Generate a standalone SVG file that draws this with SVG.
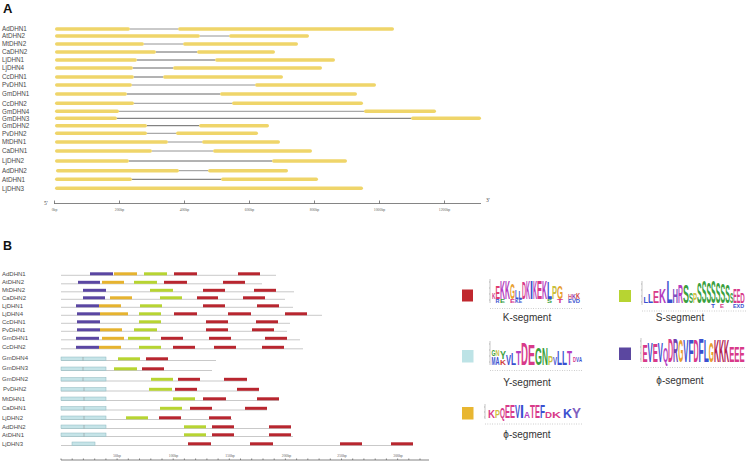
<svg xmlns="http://www.w3.org/2000/svg" width="751" height="462" viewBox="0 0 751 462">
<style>
.ttl{font-family:"Liberation Sans",Arial,sans-serif;font-weight:bold;fill:#111}
.lbl{font-family:"Liberation Sans",Arial,sans-serif;font-size:6.3px;fill:#4a4a4a}
.lblb{font-family:"Liberation Sans",Arial,sans-serif;font-size:6px;fill:#4a4a4a}
.ex{fill:#efd56a}
.in{stroke:#555;stroke-width:0.9}
.ing{stroke:#888;stroke-width:0.9}
.ax{stroke:#666;stroke-width:0.8;fill:none}
.tk{font-family:"Liberation Serif",serif;font-size:3.8px;fill:#666;text-anchor:middle}
.pr{font-family:"Liberation Serif",serif;font-size:5.5px;fill:#444}
.bl{stroke:#bbb;stroke-width:0.8}
.r{fill:#b8262f}.g{fill:#b7d432}.o{fill:#e6b32f}.p{fill:#5a46a2}
.y{fill:#c6e4e8;stroke:#8db7be;stroke-width:0.5}
.leg{font-family:"Liberation Sans",Arial,sans-serif;font-size:10px;fill:#333;text-anchor:middle}
.lg{font-family:"Liberation Sans",Arial,sans-serif;font-weight:bold}
.la{stroke:#888;stroke-width:0.5;fill:none}
.ld{stroke:#999;stroke-width:0.6;stroke-dasharray:0.8 1.6;fill:none}
.pk{fill:#d83a8a}.mg{fill:#b43cc0}.bu{fill:#3a50d0}.gn{fill:#3aa040}.yl{fill:#c8c040}.or{fill:#e8a030}.dr{fill:#b02050}.vi{fill:#7040b0}
</style>

<text class="ttl" x="3" y="12.7" font-size="13">A</text>
<text class="ttl" x="3" y="250" font-size="12.5">B</text>

<!-- Panel A -->
<g id="panelA-rows">
<g id="a-AdDHN1"><text class="lbl" x="2" y="31.2">AdDHN1</text><line class="ing" x1="130" y1="29" x2="178" y2="29"/><rect class="ex" x="55" y="27.3" width="75" height="3.4" rx="1.7"/><rect class="ex" x="178" y="27.3" width="216" height="3.4" rx="1.7"/></g>
<g id="a-AtDHN2"><text class="lbl" x="2" y="38.2">AtDHN2</text><line class="ing" x1="200" y1="36" x2="229" y2="36"/><rect class="ex" x="55" y="34.3" width="145" height="3.4" rx="1.7"/><rect class="ex" x="229" y="34.3" width="80" height="3.4" rx="1.7"/></g>
<g id="a-MtDHN2"><text class="lbl" x="2" y="46.2">MtDHN2</text><line class="ing" x1="144" y1="44" x2="183" y2="44"/><rect class="ex" x="55" y="42.3" width="89" height="3.4" rx="1.7"/><rect class="ex" x="183" y="42.3" width="115" height="3.4" rx="1.7"/></g>
<g id="a-CaDHN2"><text class="lbl" x="2" y="54.2">CaDHN2</text><line class="in" x1="156" y1="52" x2="197" y2="52"/><rect class="ex" x="55" y="50.3" width="101" height="3.4" rx="1.7"/><rect class="ex" x="197" y="50.3" width="78" height="3.4" rx="1.7"/></g>
<g id="a-LjDHN1"><text class="lbl" x="2" y="62.2">LjDHN1</text><line class="in" x1="137" y1="60" x2="215" y2="60"/><rect class="ex" x="55" y="58.3" width="82" height="3.4" rx="1.7"/><rect class="ex" x="215" y="58.3" width="120" height="3.4" rx="1.7"/></g>
<g id="a-LjDHN4"><text class="lbl" x="2" y="70.2">LjDHN4</text><line class="in" x1="133" y1="68" x2="173" y2="68"/><rect class="ex" x="55" y="66.3" width="78" height="3.4" rx="1.7"/><rect class="ex" x="173" y="66.3" width="149" height="3.4" rx="1.7"/></g>
<g id="a-CcDHN1"><text class="lbl" x="2" y="79.2">CcDHN1</text><line class="in" x1="134" y1="77" x2="163" y2="77"/><rect class="ex" x="55" y="75.3" width="79" height="3.4" rx="1.7"/><rect class="ex" x="163" y="75.3" width="120" height="3.4" rx="1.7"/></g>
<g id="a-PvDHN1"><text class="lbl" x="2" y="87.2">PvDHN1</text><line class="ing" x1="132" y1="85" x2="255" y2="85"/><rect class="ex" x="55" y="83.3" width="77" height="3.4" rx="1.7"/><rect class="ex" x="255" y="83.3" width="121" height="3.4" rx="1.7"/></g>
<g id="a-GmDHN1"><text class="lbl" x="2" y="96.2">GmDHN1</text><line class="in" x1="127" y1="94" x2="220" y2="94"/><rect class="ex" x="55" y="92.3" width="72" height="3.4" rx="1.7"/><rect class="ex" x="220" y="92.3" width="137" height="3.4" rx="1.7"/></g>
<g id="a-CcDHN2"><text class="lbl" x="2" y="105.5">CcDHN2</text><line class="ing" x1="134" y1="103.3" x2="232" y2="103.3"/><rect class="ex" x="55" y="101.6" width="79" height="3.4" rx="1.7"/><rect class="ex" x="232" y="101.6" width="131" height="3.4" rx="1.7"/></g>
<g id="a-GmDHN4"><text class="lbl" x="2" y="113.5">GmDHN4</text><line class="ing" x1="119" y1="111.3" x2="364" y2="111.3"/><rect class="ex" x="55" y="109.6" width="64" height="3.4" rx="1.7"/><rect class="ex" x="364" y="109.6" width="72" height="3.4" rx="1.7"/></g>
<g id="a-GmDHN3"><text class="lbl" x="2" y="120.5">GmDHN3</text><line class="in" x1="117" y1="118.3" x2="411" y2="118.3"/><rect class="ex" x="55" y="116.6" width="62" height="3.4" rx="1.7"/><rect class="ex" x="411" y="116.6" width="70" height="3.4" rx="1.7"/></g>
<g id="a-GmDHN2"><text class="lbl" x="2" y="127.9">GmDHN2</text><line class="in" x1="147" y1="125.7" x2="199" y2="125.7"/><rect class="ex" x="55" y="124" width="92" height="3.4" rx="1.7"/><rect class="ex" x="199" y="124" width="70" height="3.4" rx="1.7"/></g>
<g id="a-PvDHN2"><text class="lbl" x="2" y="135.5">PvDHN2</text><line class="ing" x1="147" y1="133.3" x2="176" y2="133.3"/><rect class="ex" x="55" y="131.6" width="92" height="3.4" rx="1.7"/><rect class="ex" x="176" y="131.6" width="82" height="3.4" rx="1.7"/></g>
<g id="a-MtDHN1"><text class="lbl" x="2" y="144.2">MtDHN1</text><line class="ing" x1="168" y1="142" x2="202" y2="142"/><rect class="ex" x="55" y="140.3" width="113" height="3.4" rx="1.7"/><rect class="ex" x="202" y="140.3" width="78" height="3.4" rx="1.7"/></g>
<g id="a-CaDHN1"><text class="lbl" x="2" y="153.2">CaDHN1</text><line class="ing" x1="152" y1="151" x2="213" y2="151"/><rect class="ex" x="55" y="149.3" width="97" height="3.4" rx="1.7"/><rect class="ex" x="213" y="149.3" width="99" height="3.4" rx="1.7"/></g>
<g id="a-LjDHN2"><text class="lbl" x="2" y="163.2">LjDHN2</text><line class="in" x1="129" y1="161" x2="272" y2="161"/><rect class="ex" x="55" y="159.3" width="74" height="3.4" rx="1.7"/><rect class="ex" x="272" y="159.3" width="75" height="3.4" rx="1.7"/></g>
<g id="a-AdDHN2"><text class="lbl" x="2" y="172.9">AdDHN2</text><line class="ing" x1="179" y1="170.7" x2="208" y2="170.7"/><rect class="ex" x="56" y="169" width="123" height="3.4" rx="1.7"/><rect class="ex" x="208" y="169" width="80" height="3.4" rx="1.7"/></g>
<g id="a-AtDHN1"><text class="lbl" x="2" y="181.5">AtDHN1</text><line class="in" x1="132" y1="179.3" x2="221" y2="179.3"/><rect class="ex" x="55" y="177.6" width="77" height="3.4" rx="1.7"/><rect class="ex" x="221" y="177.6" width="97" height="3.4" rx="1.7"/></g>
<g id="a-LjDHN3"><text class="lbl" x="2" y="190.5">LjDHN3</text><rect class="ex" x="55" y="186.6" width="308" height="3.4" rx="1.7"/></g>
</g>

<g id="axisA">
<text class="pr" x="44" y="205">5'</text>
<text class="pr" x="486" y="202">3'</text>
<line class="ax" x1="54" y1="203.5" x2="481" y2="203.5"/>
<path class="ax" d="M54.5 203.5V200.5M119.5 203.5V200.5M184.5 203.5V200.5M249.5 203.5V200.5M314.5 203.5V200.5M379.5 203.5V200.5M444.5 203.5V200.5"/>
<text class="tk" x="54.5" y="211">0bp</text>
<text class="tk" x="119.5" y="211">200bp</text>
<text class="tk" x="184.5" y="211">400bp</text>
<text class="tk" x="249.5" y="211">600bp</text>
<text class="tk" x="314.5" y="211">800bp</text>
<text class="tk" x="379.5" y="211">1000bp</text>
<text class="tk" x="444.5" y="211">1200bp</text>
</g>

<!-- Panel B -->
<g id="panelB-rows">
<g id="b-AdDHN1"><text class="lblb" x="2" y="275.5">AdDHN1</text><line class="bl" x1="61" y1="275.3" x2="276" y2="275.3"/><rect class="p" x="90" y="272.3" width="23" height="3"/><rect class="o" x="114" y="272.3" width="23" height="3"/><rect class="g" x="144" y="272.3" width="23" height="3"/><rect class="r" x="174" y="272.3" width="23" height="3"/><rect class="r" x="238" y="272.3" width="22" height="3"/></g>
<g id="b-AtDHN2"><text class="lblb" x="2" y="284">AtDHN2</text><line class="bl" x1="61" y1="283.8" x2="262" y2="283.8"/><rect class="p" x="78" y="280.8" width="22" height="3"/><rect class="o" x="102" y="280.8" width="22" height="3"/><rect class="g" x="134" y="280.8" width="23" height="3"/><rect class="r" x="164" y="280.8" width="23" height="3"/><rect class="r" x="223" y="280.8" width="22" height="3"/></g>
<g id="b-MtDHN2"><text class="lblb" x="2" y="292">MtDHN2</text><line class="bl" x1="61" y1="291.8" x2="294" y2="291.8"/><rect class="p" x="83" y="288.8" width="23" height="3"/><rect class="g" x="150" y="288.8" width="23" height="3"/><rect class="r" x="203" y="288.8" width="22" height="3"/><rect class="r" x="254" y="288.8" width="22" height="3"/></g>
<g id="b-CaDHN2"><text class="lblb" x="2" y="299.5">CaDHN2</text><line class="bl" x1="61" y1="299.3" x2="285" y2="299.3"/><rect class="p" x="83" y="296.3" width="22" height="3"/><rect class="o" x="110" y="296.3" width="22" height="3"/><rect class="g" x="160" y="296.3" width="22" height="3"/><rect class="r" x="197" y="296.3" width="21" height="3"/><rect class="r" x="243" y="296.3" width="22" height="3"/></g>
<g id="b-LjDHN1"><text class="lblb" x="2" y="307.5">LjDHN1</text><line class="bl" x1="61" y1="307.3" x2="293" y2="307.3"/><rect class="p" x="76" y="304.3" width="23" height="3"/><rect class="o" x="99" y="304.3" width="22" height="3"/><rect class="g" x="140" y="304.3" width="22" height="3"/><rect class="r" x="203" y="304.3" width="22" height="3"/><rect class="r" x="257" y="304.3" width="22" height="3"/></g>
<g id="b-LjDHN4"><text class="lblb" x="2" y="315.5">LjDHN4</text><line class="bl" x1="61" y1="315.3" x2="322" y2="315.3"/><rect class="p" x="77" y="312.3" width="23" height="3"/><rect class="o" x="100" y="312.3" width="28" height="3"/><rect class="g" x="139" y="312.3" width="22" height="3"/><rect class="r" x="174" y="312.3" width="23" height="3"/><rect class="r" x="228" y="312.3" width="23" height="3"/><rect class="r" x="285" y="312.3" width="22" height="3"/></g>
<g id="b-CcDHN1"><text class="lblb" x="2" y="323.5">CcDHN1</text><line class="bl" x1="61" y1="323.3" x2="290" y2="323.3"/><rect class="p" x="77" y="320.3" width="23" height="3"/><rect class="g" x="139" y="320.3" width="22" height="3"/><rect class="r" x="206" y="320.3" width="22" height="3"/><rect class="r" x="256" y="320.3" width="22" height="3"/></g>
<g id="b-PvDHN1"><text class="lblb" x="2" y="331.5">PvDHN1</text><line class="bl" x1="61" y1="331.3" x2="287" y2="331.3"/><rect class="p" x="77" y="328.3" width="23" height="3"/><rect class="o" x="100" y="328.3" width="22" height="3"/><rect class="g" x="134" y="328.3" width="23" height="3"/><rect class="r" x="206" y="328.3" width="22" height="3"/><rect class="r" x="252" y="328.3" width="22" height="3"/></g>
<g id="b-GmDHN1"><text class="lblb" x="2" y="340">GmDHN1</text><line class="bl" x1="61" y1="339.8" x2="300" y2="339.8"/><rect class="p" x="76" y="336.8" width="23" height="3"/><rect class="o" x="102" y="336.8" width="22" height="3"/><rect class="g" x="128" y="336.8" width="22" height="3"/><rect class="r" x="161" y="336.8" width="22" height="3"/><rect class="r" x="209" y="336.8" width="22" height="3"/><rect class="r" x="265" y="336.8" width="22" height="3"/></g>
<g id="b-CcDHN2"><text class="lblb" x="2" y="349">CcDHN2</text><line class="bl" x1="61" y1="348.8" x2="303" y2="348.8"/><rect class="p" x="76" y="345.8" width="23" height="3"/><rect class="o" x="99" y="345.8" width="22" height="3"/><rect class="g" x="139" y="345.8" width="22" height="3"/><rect class="r" x="173" y="345.8" width="22" height="3"/><rect class="r" x="214" y="345.8" width="22" height="3"/><rect class="r" x="262" y="345.8" width="22" height="3"/></g>
<g id="b-GmDHN4"><text class="lblb" x="2" y="360.3">GmDHN4</text><line class="bl" x1="61" y1="360.5" x2="216" y2="360.5"/><rect class="y" x="61" y="357" width="45" height="3.5"/><line class="la" x1="83" y1="357" x2="83" y2="360.5"/><rect class="g" x="118" y="357.3" width="22" height="3"/><rect class="r" x="146" y="357.3" width="22" height="3"/></g>
<g id="b-GmDHN3"><text class="lblb" x="2" y="370.3">GmDHN3</text><line class="bl" x1="61" y1="370.5" x2="212" y2="370.5"/><rect class="y" x="61" y="367" width="45" height="3.5"/><line class="la" x1="83" y1="367" x2="83" y2="370.5"/><rect class="g" x="114" y="367.3" width="23" height="3"/><rect class="r" x="142" y="367.3" width="22" height="3"/></g>
<g id="b-GmDHN2"><text class="lblb" x="2" y="381">GmDHN2</text><line class="bl" x1="61" y1="381" x2="247" y2="381"/><rect class="y" x="61" y="377.5" width="45" height="3.5"/><line class="la" x1="83" y1="377.5" x2="83" y2="381"/><rect class="g" x="151" y="377.8" width="22" height="3"/><rect class="r" x="178" y="377.8" width="22" height="3"/><rect class="r" x="224" y="377.8" width="23" height="3"/></g>
<g id="b-PvDHN2"><text class="lblb" x="3" y="391">PvDHN2</text><line class="bl" x1="61" y1="391" x2="259" y2="391"/><rect class="y" x="61" y="387.5" width="45" height="3.5"/><line class="la" x1="84" y1="387.5" x2="84" y2="391"/><rect class="g" x="149" y="387.8" width="23" height="3"/><rect class="r" x="175" y="387.8" width="22" height="3"/><rect class="r" x="237" y="387.8" width="22" height="3"/></g>
<g id="b-MtDHN1"><text class="lblb" x="2" y="400.5">MtDHN1</text><line class="bl" x1="61" y1="400.5" x2="279" y2="400.5"/><rect class="y" x="61" y="397" width="45" height="3.5"/><line class="la" x1="84" y1="397" x2="84" y2="400.5"/><rect class="g" x="173" y="397.3" width="22" height="3"/><rect class="r" x="203" y="397.3" width="23" height="3"/><rect class="r" x="257" y="397.3" width="22" height="3"/></g>
<g id="b-CaDHN1"><text class="lblb" x="2" y="410">CaDHN1</text><line class="bl" x1="61" y1="410" x2="267" y2="410"/><rect class="y" x="61" y="406.5" width="45" height="3.5"/><line class="la" x1="84" y1="406.5" x2="84" y2="410"/><rect class="g" x="160" y="406.8" width="22" height="3"/><rect class="r" x="190" y="406.8" width="22" height="3"/><rect class="r" x="245" y="406.8" width="22" height="3"/></g>
<g id="b-LjDHN2"><text class="lblb" x="2" y="419.5">LjDHN2</text><line class="bl" x1="61" y1="419.5" x2="232" y2="419.5"/><rect class="y" x="61" y="416" width="45" height="3.5"/><line class="la" x1="84" y1="416" x2="84" y2="419.5"/><rect class="g" x="126" y="416.3" width="22" height="3"/><rect class="r" x="159" y="416.3" width="22" height="3"/><rect class="r" x="209" y="416.3" width="22" height="3"/></g>
<g id="b-AdDHN2"><text class="lblb" x="2" y="428.5">AdDHN2</text><line class="bl" x1="61" y1="428.5" x2="291" y2="428.5"/><rect class="y" x="61" y="425" width="45" height="3.5"/><line class="la" x1="84" y1="425" x2="84" y2="428.5"/><rect class="g" x="184" y="425.3" width="22" height="3"/><rect class="r" x="212" y="425.3" width="22" height="3"/><rect class="r" x="269" y="425.3" width="22" height="3"/></g>
<g id="b-AtDHN1"><text class="lblb" x="2" y="436.5">AtDHN1</text><line class="bl" x1="61" y1="436.5" x2="293" y2="436.5"/><rect class="y" x="61" y="433" width="45" height="3.5"/><line class="la" x1="84" y1="433" x2="84" y2="436.5"/><rect class="g" x="184" y="433.3" width="22" height="3"/><rect class="r" x="212" y="433.3" width="22" height="3"/><rect class="r" x="269" y="433.3" width="22" height="3"/></g>
<g id="b-LjDHN3"><text class="lblb" x="2" y="445.5">LjDHN3</text><line class="bl" x1="61" y1="445.5" x2="413" y2="445.5"/><rect class="y" x="72" y="442" width="23" height="3.5"/><rect class="r" x="188" y="442.3" width="23" height="3"/><rect class="r" x="250" y="442.3" width="23" height="3"/><rect class="r" x="340" y="442.3" width="22" height="3"/><rect class="r" x="391" y="442.3" width="22" height="3"/></g>
</g>

<g id="axisB">
<line class="ax" x1="61" y1="460" x2="429" y2="460"/>
<path class="ax" stroke-width="0.5" d="M61 460v-1.5M72.2 460v-1.5M83.4 460v-1.5M94.7 460v-1.5M105.9 460v-1.5M117.1 460v-1.5M128.3 460v-1.5M139.5 460v-1.5M150.8 460v-1.5M162 460v-1.5M173.2 460v-1.5M184.4 460v-1.5M195.6 460v-1.5M206.9 460v-1.5M218.1 460v-1.5M229.3 460v-1.5M240.5 460v-1.5M251.7 460v-1.5M263 460v-1.5M274.2 460v-1.5M285.4 460v-1.5M296.6 460v-1.5M307.8 460v-1.5M319.1 460v-1.5M330.3 460v-1.5M341.5 460v-1.5M352.7 460v-1.5M363.9 460v-1.5M375.2 460v-1.5M386.4 460v-1.5M397.6 460v-1.5M408.8 460v-1.5M420 460v-1.5"/>
<text class="tk" x="117" y="457">50bp</text>
<text class="tk" x="173.5" y="457">100bp</text>
<text class="tk" x="230" y="457">150bp</text>
<text class="tk" x="286.5" y="457">200bp</text>
<text class="tk" x="342" y="457">250bp</text>
<text class="tk" x="398" y="457">300bp</text>
</g>

<!-- Legend -->
<g id="legend-K">
<rect x="462" y="289.5" width="11" height="12" fill="#c0282e"/>
<path class="la" d="M490 279V303M489 282h1M489 288h1M489 294h1M489 300h1"/>
<line class="ld" x1="490" y1="308.5" x2="583" y2="308.5"/>
<text class="lg" lengthAdjust="spacingAndGlyphs"><tspan x="492" y="299" font-size="8.3" textLength="3.5" lengthAdjust="spacingAndGlyphs" fill="#d04090">K</tspan><tspan x="495.5" y="299" font-size="18" textLength="4.5" lengthAdjust="spacingAndGlyphs" fill="#e03c6e">E</tspan><tspan class="mg" x="500" y="299" font-size="26.4" textLength="5" lengthAdjust="spacingAndGlyphs">K</tspan><tspan class="mg" x="505" y="299" font-size="26.4" textLength="5" lengthAdjust="spacingAndGlyphs">K</tspan><tspan class="or" x="510" y="299" font-size="22.2" textLength="5" lengthAdjust="spacingAndGlyphs">G</tspan><tspan class="bu" x="515" y="299" font-size="12.5" textLength="3.5" lengthAdjust="spacingAndGlyphs">L</tspan><tspan class="bu" x="518.5" y="299" font-size="11.1" textLength="3.5" lengthAdjust="spacingAndGlyphs">L</tspan><tspan class="pk" x="522" y="299" font-size="23.6" textLength="4" lengthAdjust="spacingAndGlyphs">D</tspan><tspan class="mg" x="526" y="299" font-size="26.4" textLength="4" lengthAdjust="spacingAndGlyphs">K</tspan><tspan class="bu" x="530" y="299" font-size="26.4" textLength="3" lengthAdjust="spacingAndGlyphs">I</tspan><tspan class="mg" x="533" y="299" font-size="26.4" textLength="4" lengthAdjust="spacingAndGlyphs">K</tspan><tspan class="pk" x="537" y="299" font-size="26.4" textLength="5" lengthAdjust="spacingAndGlyphs">E</tspan><tspan class="mg" x="542" y="299" font-size="26.4" textLength="5" lengthAdjust="spacingAndGlyphs">K</tspan><tspan class="bu" x="547" y="299" font-size="23.6" textLength="5" lengthAdjust="spacingAndGlyphs">L</tspan><tspan class="yl" x="552" y="299" font-size="18" textLength="5" lengthAdjust="spacingAndGlyphs">P</tspan><tspan class="or" x="557" y="299" font-size="18" textLength="6" lengthAdjust="spacingAndGlyphs">G</tspan><tspan x="568" y="299" font-size="7" textLength="4" lengthAdjust="spacingAndGlyphs" fill="#d06080">H</tspan><tspan x="572" y="299" font-size="7" textLength="4" lengthAdjust="spacingAndGlyphs" fill="#9040b0">K</tspan><tspan x="576" y="299" font-size="8.3" textLength="4" lengthAdjust="spacingAndGlyphs" fill="#d04040">K</tspan><tspan class="bu" x="495.5" y="303" font-size="4.9" textLength="4" lengthAdjust="spacingAndGlyphs">R</tspan><tspan class="gn" x="500" y="303" font-size="4.9" textLength="5" lengthAdjust="spacingAndGlyphs">E</tspan><tspan class="pk" x="510" y="303" font-size="4.9" textLength="5" lengthAdjust="spacingAndGlyphs">E</tspan><tspan class="bu" x="515" y="303" font-size="4.9" textLength="7" lengthAdjust="spacingAndGlyphs">KE</tspan><tspan class="gn" x="547" y="303" font-size="4.9" textLength="5" lengthAdjust="spacingAndGlyphs">S</tspan><tspan class="pk" x="557" y="303" font-size="4.9" textLength="6" lengthAdjust="spacingAndGlyphs">T</tspan><tspan class="bu" x="568" y="303" font-size="4.9" textLength="12" lengthAdjust="spacingAndGlyphs">EVD</tspan></text>
<text class="leg" x="527" y="320.5">K-segment</text>
</g>

<g id="legend-S">
<rect x="619" y="290" width="12" height="12" fill="#b7d432"/>
<path class="la" d="M642 281V305M641 284h1M641 290h1M641 296h1M641 302h1"/>
<line class="ld" x1="642" y1="311" x2="746" y2="311"/>
<text class="lg"><tspan class="bu" x="643.5" y="303" font-size="9.7" textLength="4.5" lengthAdjust="spacingAndGlyphs">L</tspan><tspan class="bu" x="648" y="303" font-size="12.5" textLength="5" lengthAdjust="spacingAndGlyphs">L</tspan><tspan class="pk" x="653" y="303" font-size="16.7" textLength="6" lengthAdjust="spacingAndGlyphs">E</tspan><tspan class="mg" x="659" y="303" font-size="20.8" textLength="7" lengthAdjust="spacingAndGlyphs">K</tspan><tspan class="bu" x="666.5" y="303" font-size="30.6" textLength="6" lengthAdjust="spacingAndGlyphs">L</tspan><tspan x="672.5" y="303" font-size="19.4" textLength="5.5" lengthAdjust="spacingAndGlyphs" fill="#8050c0">H</tspan><tspan class="mg" x="678" y="303" font-size="25" textLength="5" lengthAdjust="spacingAndGlyphs">R</tspan><tspan class="gn" x="683" y="303" font-size="25" textLength="6" lengthAdjust="spacingAndGlyphs">S</tspan><tspan class="gn" x="689" y="303" font-size="13.9" textLength="4" lengthAdjust="spacingAndGlyphs">S</tspan><tspan x="693" y="303" font-size="15.3" textLength="4" lengthAdjust="spacingAndGlyphs" fill="#d0c040">P</tspan><tspan class="gn" x="697" y="303" font-size="29.2" textLength="4.7" lengthAdjust="spacingAndGlyphs">S</tspan><tspan class="gn" x="701.7" y="303" font-size="30.6" textLength="4.7" lengthAdjust="spacingAndGlyphs">S</tspan><tspan class="gn" x="706.4" y="303" font-size="29.2" textLength="4.7" lengthAdjust="spacingAndGlyphs">S</tspan><tspan class="gn" x="711.1" y="303" font-size="30.6" textLength="4.7" lengthAdjust="spacingAndGlyphs">S</tspan><tspan class="gn" x="715.8" y="303" font-size="29.2" textLength="4.7" lengthAdjust="spacingAndGlyphs">S</tspan><tspan class="gn" x="720.5" y="303" font-size="28" textLength="4.7" lengthAdjust="spacingAndGlyphs">S</tspan><tspan class="gn" x="725.2" y="303" font-size="26.4" textLength="4.7" lengthAdjust="spacingAndGlyphs">S</tspan><tspan class="gn" x="730" y="303" font-size="15.3" textLength="3.3" lengthAdjust="spacingAndGlyphs">S</tspan><tspan class="pk" x="733.3" y="303" font-size="20.8" textLength="3.5" lengthAdjust="spacingAndGlyphs">E</tspan><tspan class="pk" x="736.8" y="303" font-size="20.8" textLength="3.5" lengthAdjust="spacingAndGlyphs">E</tspan><tspan class="pk" x="740.3" y="303" font-size="15.3" textLength="4.5" lengthAdjust="spacingAndGlyphs">D</tspan><tspan class="bu" x="711" y="307.5" font-size="5" textLength="4" lengthAdjust="spacingAndGlyphs">T</tspan><tspan class="pk" x="720" y="307.5" font-size="5" textLength="4" lengthAdjust="spacingAndGlyphs">E</tspan><tspan class="bu" x="733" y="307.5" font-size="5" textLength="11" lengthAdjust="spacingAndGlyphs">EXD</tspan></text>
<text class="leg" x="680" y="320.5">S-segment</text>
</g>

<g id="legend-Y">
<rect x="462" y="350" width="11.5" height="12.5" fill="#bde3e6"/>
<path class="la" d="M490 341V365M489 344h1M489 350h1M489 356h1M489 362h1"/>
<line class="ld" x1="490" y1="370.5" x2="583" y2="370.5"/>
<text class="lg"><tspan class="gn" x="491.5" y="356" font-size="8.3" textLength="4" lengthAdjust="spacingAndGlyphs">G</tspan><tspan class="yl" x="495.5" y="356" font-size="8.3" textLength="4" lengthAdjust="spacingAndGlyphs">N</tspan><tspan class="bu" x="491.5" y="365" font-size="11.1" textLength="4" lengthAdjust="spacingAndGlyphs">M</tspan><tspan class="bu" x="495.5" y="365" font-size="11.1" textLength="4" lengthAdjust="spacingAndGlyphs">A</tspan><tspan class="gn" x="500" y="359" font-size="11.1" textLength="6" lengthAdjust="spacingAndGlyphs">Y</tspan><tspan x="500" y="365" font-size="7.6" textLength="6" lengthAdjust="spacingAndGlyphs" fill="#d04040">K</tspan><tspan class="bu" x="506" y="365" font-size="15.3" textLength="5" lengthAdjust="spacingAndGlyphs">V</tspan><tspan class="bu" x="511" y="365" font-size="16.7" textLength="5" lengthAdjust="spacingAndGlyphs">L</tspan><tspan class="mg" x="516" y="365" font-size="19.4" textLength="5" lengthAdjust="spacingAndGlyphs">T</tspan><tspan class="pk" x="521" y="365" font-size="31.9" textLength="7" lengthAdjust="spacingAndGlyphs">D</tspan><tspan class="pk" x="528" y="365" font-size="29.2" textLength="7" lengthAdjust="spacingAndGlyphs">E</tspan><tspan class="gn" x="535" y="365" font-size="23.6" textLength="7" lengthAdjust="spacingAndGlyphs">G</tspan><tspan class="gn" x="542" y="365" font-size="23.6" textLength="6" lengthAdjust="spacingAndGlyphs">N</tspan><tspan class="yl" x="548" y="365" font-size="12.5" textLength="5" lengthAdjust="spacingAndGlyphs">P</tspan><tspan class="bu" x="553" y="365" font-size="11.1" textLength="4" lengthAdjust="spacingAndGlyphs">V</tspan><tspan class="bu" x="557" y="365" font-size="19.4" textLength="5" lengthAdjust="spacingAndGlyphs">L</tspan><tspan class="bu" x="562" y="365" font-size="19.4" textLength="5" lengthAdjust="spacingAndGlyphs">L</tspan><tspan class="mg" x="567" y="365" font-size="20.8" textLength="5" lengthAdjust="spacingAndGlyphs">T</tspan><tspan class="pk" x="573" y="362" font-size="7" textLength="3" lengthAdjust="spacingAndGlyphs">D</tspan><tspan class="bu" x="576" y="362" font-size="7" textLength="3" lengthAdjust="spacingAndGlyphs">V</tspan><tspan class="bu" x="579" y="362" font-size="7" textLength="3" lengthAdjust="spacingAndGlyphs">A</tspan></text>
<text class="leg" x="527" y="386">Y-segment</text>
</g>

<g id="legend-phi1">
<rect x="619" y="347.5" width="12" height="12.5" fill="#5b47a0"/>
<path class="la" d="M641 338V362M640 341h1M640 347h1M640 353h1M640 359h1"/>
<line class="ld" x1="641" y1="367.5" x2="746" y2="367.5"/>
<text class="lg"><tspan class="pk" x="642.5" y="362" font-size="23.6" textLength="5.1" lengthAdjust="spacingAndGlyphs">E</tspan><tspan class="bu" x="647.6" y="362" font-size="27.8" textLength="5.1" lengthAdjust="spacingAndGlyphs">V</tspan><tspan class="pk" x="652.7" y="362" font-size="25" textLength="5.1" lengthAdjust="spacingAndGlyphs">E</tspan><tspan class="bu" x="657.8" y="362" font-size="27.8" textLength="5.1" lengthAdjust="spacingAndGlyphs">V</tspan><tspan class="mg" x="662.9" y="362" font-size="19.4" textLength="5.1" lengthAdjust="spacingAndGlyphs">Q</tspan><tspan class="pk" x="668" y="362" font-size="33.3" textLength="5.1" lengthAdjust="spacingAndGlyphs">D</tspan><tspan class="vi" x="673.1" y="362" font-size="33.3" textLength="5.1" lengthAdjust="spacingAndGlyphs">R</tspan><tspan class="or" x="678.2" y="362" font-size="30.6" textLength="5.1" lengthAdjust="spacingAndGlyphs">G</tspan><tspan class="bu" x="683.3" y="362" font-size="30.6" textLength="5.1" lengthAdjust="spacingAndGlyphs">V</tspan><tspan class="bu" x="688.4" y="362" font-size="30.6" textLength="5.1" lengthAdjust="spacingAndGlyphs">F</tspan><tspan class="pk" x="693.5" y="362" font-size="30.6" textLength="5.1" lengthAdjust="spacingAndGlyphs">D</tspan><tspan class="bu" x="698.6" y="362" font-size="33.3" textLength="5.1" lengthAdjust="spacingAndGlyphs">F</tspan><tspan class="bu" x="703.7" y="362" font-size="30.6" textLength="5.1" lengthAdjust="spacingAndGlyphs">L</tspan><tspan class="or" x="708.8" y="362" font-size="27.8" textLength="5.1" lengthAdjust="spacingAndGlyphs">G</tspan><tspan class="dr" x="713.9" y="362" font-size="30.6" textLength="5.1" lengthAdjust="spacingAndGlyphs">K</tspan><tspan class="dr" x="719" y="362" font-size="30.6" textLength="5.1" lengthAdjust="spacingAndGlyphs">K</tspan><tspan class="dr" x="724.1" y="362" font-size="30.6" textLength="5.1" lengthAdjust="spacingAndGlyphs">K</tspan><tspan class="pk" x="729.2" y="362" font-size="22.2" textLength="5.1" lengthAdjust="spacingAndGlyphs">E</tspan><tspan class="pk" x="734.3" y="362" font-size="22.2" textLength="5.1" lengthAdjust="spacingAndGlyphs">E</tspan><tspan class="pk" x="739.4" y="362" font-size="22.2" textLength="5.1" lengthAdjust="spacingAndGlyphs">E</tspan></text>
<text class="leg" x="680" y="383.5">ϕ-segment</text>
</g>

<g id="legend-phi2">
<rect x="462" y="407" width="11.5" height="12.5" fill="#e8b631"/>
<path class="la" d="M485 404V419M484 407h1M484 412h1M484 417h1"/>
<line class="ld" x1="485" y1="424" x2="582" y2="424"/>
<text class="lg"><tspan class="pk" x="488" y="418" font-size="11.1" textLength="7" lengthAdjust="spacingAndGlyphs">K</tspan><tspan x="495" y="418" font-size="11.1" textLength="5" lengthAdjust="spacingAndGlyphs" fill="#d0c040">P</tspan><tspan class="pk" x="500" y="418" font-size="15.3" textLength="5" lengthAdjust="spacingAndGlyphs">Q</tspan><tspan class="pk" x="505" y="418" font-size="18" textLength="5" lengthAdjust="spacingAndGlyphs">E</tspan><tspan class="pk" x="510" y="418" font-size="18" textLength="5" lengthAdjust="spacingAndGlyphs">E</tspan><tspan class="bu" x="515" y="418" font-size="18" textLength="5" lengthAdjust="spacingAndGlyphs">V</tspan><tspan class="bu" x="520" y="418" font-size="18" textLength="4" lengthAdjust="spacingAndGlyphs">I</tspan><tspan class="mg" x="524" y="418" font-size="9.7" textLength="6" lengthAdjust="spacingAndGlyphs">A</tspan><tspan class="pk" x="530" y="418" font-size="18" textLength="5" lengthAdjust="spacingAndGlyphs">T</tspan><tspan class="pk" x="535" y="418" font-size="18" textLength="5" lengthAdjust="spacingAndGlyphs">E</tspan><tspan class="bu" x="540" y="418" font-size="18" textLength="5" lengthAdjust="spacingAndGlyphs">F</tspan><tspan class="pk" x="545" y="418" font-size="9.7" textLength="7" lengthAdjust="spacingAndGlyphs">D</tspan><tspan class="pk" x="552" y="418" font-size="9.7" textLength="9" lengthAdjust="spacingAndGlyphs">K</tspan><tspan class="bu" x="563" y="418" font-size="12.5" textLength="9" lengthAdjust="spacingAndGlyphs">K</tspan><tspan x="572" y="418" font-size="13.9" textLength="9" lengthAdjust="spacingAndGlyphs" fill="#8060c0">Y</tspan></text>
<text class="leg" x="527" y="438">ϕ-segment</text>
</g>
</svg>
